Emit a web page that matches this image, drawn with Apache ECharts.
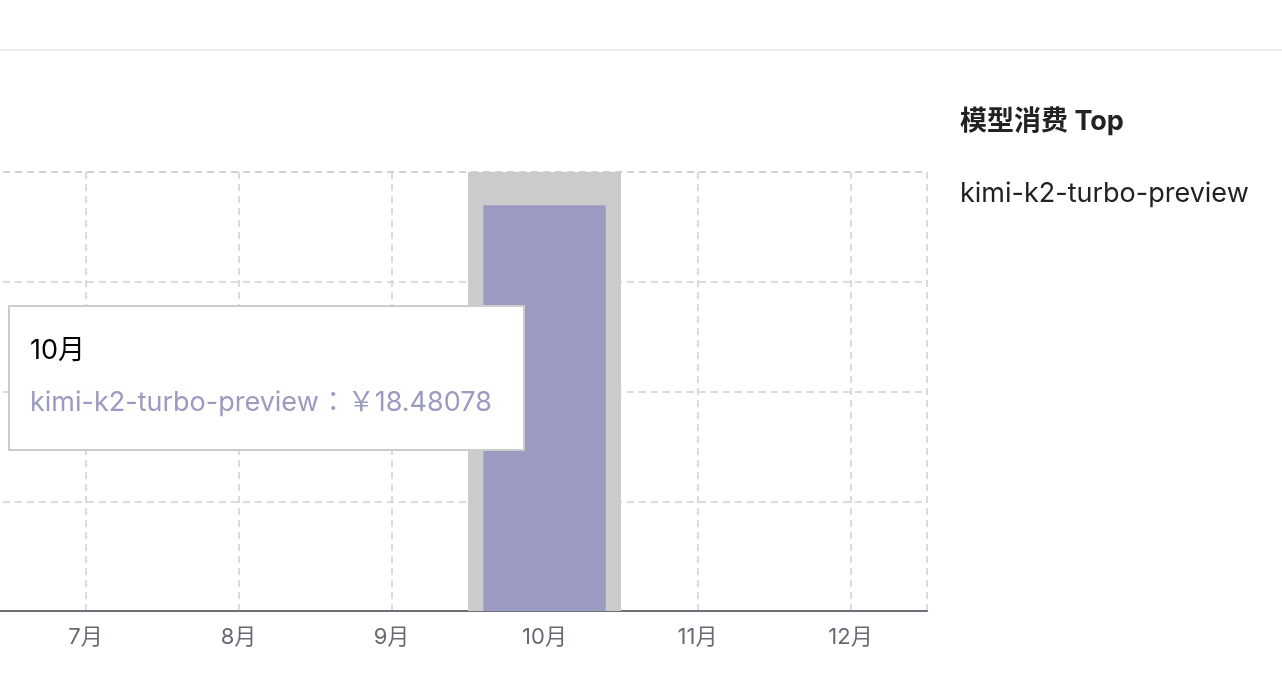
<!DOCTYPE html>
<html>
<head>
<meta charset="utf-8">
<style>
  html, body { margin: 0; padding: 0; background: #fff; }
  #chart { width: 1282px; height: 692px; }
</style>
<script src="https://cdn.jsdelivr.net/npm/echarts@6/dist/echarts.min.js"></script>
</head>
<body>
<div id="chart"></div>
<script>
const categories = ['1月','2月','3月','4月','5月','6月','7月','8月','9月','10月','11月','12月'];
const seriesName = 'kimi-k2-turbo-preview';
const seriesValues = [0, 0, 0, 0, 0, 0, 0, 0, 0, 18.48078, 0, 0];
const yTicks = { min: 0, max: 20, interval: 5 };
const titleText = '模型消费 Top';
const shownIndex = 9;

const FONT = 'Inter, "Noto Sans CJK SC", sans-serif';
const barColor = '#9b9ac1';

const chart = echarts.init(document.getElementById('chart'), null, { renderer: 'canvas' });
chart.setOption({
  animation: false,
  textStyle: { fontFamily: FONT },
  title: {
    text: titleText,
    left: 955,
    top: 103,
    textStyle: { fontSize: 27, fontWeight: 'bold', color: '#222', fontFamily: FONT }
  },
  legend: {
    data: [seriesName],
    left: 950,
    top: 175,
    icon: 'none',
    itemWidth: 0,
    selectedMode: false,
    textStyle: { fontSize: 27, color: '#222', fontFamily: FONT }
  },
  graphic: [{
    type: 'rect',
    shape: { x: 0, y: 49, width: 1282, height: 2 },
    style: { fill: '#ececec' },
    silent: true
  }],
  grid: {
    left: -909,
    right: 355,
    top: 172,
    bottom: 81,
    show: true,
    backgroundColor: 'transparent',
    borderColor: '#cfcfcf',
    borderWidth: 1.5,
    borderType: [7, 5],
    outerBoundsMode: 'none',
    containLabel: false
  },
  tooltip: {
    trigger: 'axis',
    alwaysShowContent: true,
    transitionDuration: 0,
    position: [8, 305],
    backgroundColor: '#fff',
    borderColor: '#cccccc',
    borderWidth: 2,
    padding: [17, 31, 21, 20],
    extraCssText: 'box-shadow:none;border-radius:0;',
    axisPointer: {
      type: 'shadow',
      z: 1,
      shadowStyle: { color: '#cbcbcb', opacity: 1 }
    },
    formatter: function (params) {
      const p = params[0];
      const ff = FONT.replace(/"/g, "'");
      return '<div style="font-family:' + ff + ';font-size:27px;line-height:52px;color:#000">' + p.axisValue + '</div>' +
        '<div style="font-family:' + ff + ';font-size:27px;line-height:52px;margin-top:-2px;color:' + barColor + '">' +
        p.seriesName + '<span style="font-family:\'Noto Sans CJK JP\';padding:0 1px">：</span>￥' + p.value + '</div>';
    }
  },
  xAxis: {
    type: 'category',
    data: categories,
    axisLine: { lineStyle: { color: '#6e7079', width: 2 } },
    axisTick: { alignWithLabel: true, length: 10, lineStyle: { color: '#6e7079', width: 2 } },
    axisLabel: { fontSize: 22, color: '#666a73', margin: 15, fontFamily: FONT },
    splitLine: {
      show: true,
      alignWithLabel: true,
      lineStyle: { color: '#cfcfcf', width: 1.5, type: [7, 5] }
    }
  },
  yAxis: {
    type: 'value',
    min: yTicks.min,
    max: yTicks.max,
    interval: yTicks.interval,
    axisLabel: { show: false },
    axisLine: { show: false },
    axisTick: { show: false },
    splitLine: { lineStyle: { color: '#cfcfcf', width: 1.5, type: [7, 5] } }
  },
  series: [{
    name: seriesName,
    type: 'bar',
    data: seriesValues,
    barWidth: '80%',
    itemStyle: { color: barColor },
    emphasis: { disabled: true }
  }]
});
chart.dispatchAction({ type: 'showTip', seriesIndex: 0, dataIndex: shownIndex });
</script>
</body>
</html>
